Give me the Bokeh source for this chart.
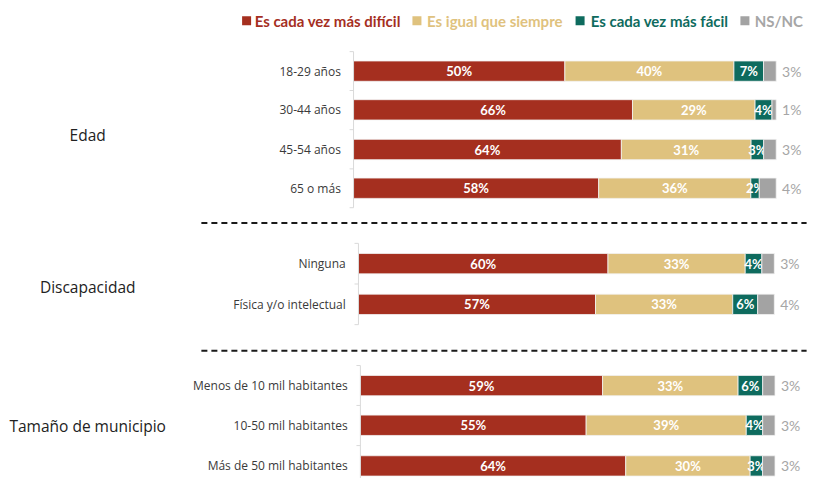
import numpy as np
from bokeh.plotting import figure
from bokeh.models import ColumnDataSource, Range1d
from bokeh.core.properties import value
from bokeh.embed import file_html
from bokeh.resources import INLINE

# ---------------- data ----------------
categories = ["18-29 años", "30-44 años", "45-54 años", "65 o más",
              "Ninguna", "Física y/o intelectual",
              "Menos de 10 mil habitantes", "10-50 mil habitantes", "Más de 50 mil habitantes"]
groups = ["Edad", "Discapacidad", "Tamaño de municipio"]
group_of = [0, 0, 0, 0, 1, 1, 2, 2, 2]
series = ["Es cada vez más difícil", "Es igual que siempre", "Es cada vez más fácil", "NS/NC"]
dificil = [50, 66, 64, 58, 60, 57, 59, 55, 64]
igual = [40, 29, 31, 36, 33, 33, 33, 39, 30]
facil = [7, 4, 3, 2, 4, 6, 6, 4, 3]
nsnc = [3, 1, 3, 4, 3, 4, 3, 3, 3]
colors = ["#A52F1F", "#DFC27E", "#0E6B5E", "#A3A3A3"]

# ---------------- layout (reference-pixel units for y, percent for x) ----------------
W, H = 811, 478
RW, RH = 827, 494
PX0, PXS = 360.0, 4.31          # ref pixel of 0 % and ref pixels per %
row_y = [73, 113, 154, 194, 272, 314, 398, 439, 481]
pitch = [40.3, 42.0, 41.5]
panel_off = [0.0, 1.16, 1.62]
panel_span = [100.0, 98.4, 98.1]
group_y = [139, 296, 440]
group_x = -62.9
sep_y = [230, 362]
legend_sq_x = [-25.3, 15.0, 53.6, 92.6]
legend_tx_x = [-23.4, 17.4, 56.1, 94.9]
legend_y = 21

p = figure(width=W, height=H, output_backend="svg", toolbar_location=None,
           x_range=Range1d(-PX0 / PXS, (RW - PX0) / PXS), y_range=Range1d(RH, 0),
           x_axis_type=None, y_axis_type=None, min_border=0,
           outline_line_color=None)
p.grid.visible = False

vals = np.array([dificil, igual, facil, nsnc], dtype=float).T
tot = vals.sum(axis=1)
cum = np.cumsum(vals, axis=1)
prev = cum - vals
off = np.array([panel_off[g] for g in group_of])
span = np.array([panel_span[g] for g in group_of])

for k in range(4):
    left = off + prev[:, k] / tot * span
    right = off + cum[:, k] / tot * span
    src = ColumnDataSource(dict(y=row_y, left=left, right=right,
                                mid=(left + right) / 2,
                                lab=[f"{int(v)}%" for v in vals[:, k]],
                                out=right + 1.4))
    p.hbar(y="y", left="left", right="right", height=21, source=src,
           fill_color=colors[k], line_color="#F2F2F2", line_width=0.8)
    if k < 3:
        p.text(x="mid", y="y", text="lab", source=src, text_color="white",
               text_font=value("Lato"), text_font_style="bold", text_font_size="13px",
               text_align="center", text_baseline="middle")
    else:
        p.text(x="out", y="y", text="lab", source=src, text_color="#A6A6A6",
               text_font=value("Lato"), text_font_size="14px",
               text_align="left", text_baseline="middle")

# category labels
cat_src = ColumnDataSource(dict(x=off - 3.0, y=row_y, t=categories))
p.text(x="x", y="y", text="t", source=cat_src, text_color="#3A3A3A",
       text_font=value("Open Sans"), text_font_size="12px",
       text_align="right", text_baseline="middle")

# axis lines and ticks per panel
ax_x, ax_y0, ax_y1 = [], [], []
tk_x0, tk_x1, tk_y = [], [], []
for g in range(3):
    ys = [row_y[i] for i in range(len(row_y)) if group_of[i] == g]
    top, bot = ys[0] - pitch[g] / 2, ys[-1] + pitch[g] / 2
    ax_x.append(panel_off[g]); ax_y0.append(top); ax_y1.append(bot)
    for b in [top] + [(a + c) / 2 for a, c in zip(ys[:-1], ys[1:])] + [bot]:
        tk_x0.append(panel_off[g] - 0.93); tk_x1.append(panel_off[g]); tk_y.append(b)
p.segment(x0=ax_x, x1=ax_x, y0=ax_y0, y1=ax_y1, line_color="#D9D9D9", line_width=1)
p.segment(x0=tk_x0, x1=tk_x1, y0=tk_y, y1=tk_y, line_color="#D9D9D9", line_width=1)

# group labels
p.text(x=[group_x] * 3, y=group_y, text=groups, text_color="#222222",
       text_font=value("Open Sans"), text_font_size="15.5px",
       text_align="center", text_baseline="middle")

# dashed separators
p.segment(x0=[-36.0] * 2, x1=[(RW - 5 - PX0) / PXS] * 2, y0=sep_y, y1=sep_y,
          line_color="#1A1A1A", line_width=2, line_dash="6 4")

# legend
p.scatter(x=legend_sq_x, y=[legend_y] * 4, marker="square", size=9,
          fill_color=colors, line_color=None)
for k in range(4):
    p.text(x=[legend_tx_x[k]], y=[legend_y], text=[series[k]],
           text_color=colors[k] if k < 3 else "#A6A6A6",
           text_font=value("Lato"), text_font_style="bold", text_font_size="15px",
           text_align="left", text_baseline="middle")

open("out.html", "w").write(file_html(p, INLINE))
